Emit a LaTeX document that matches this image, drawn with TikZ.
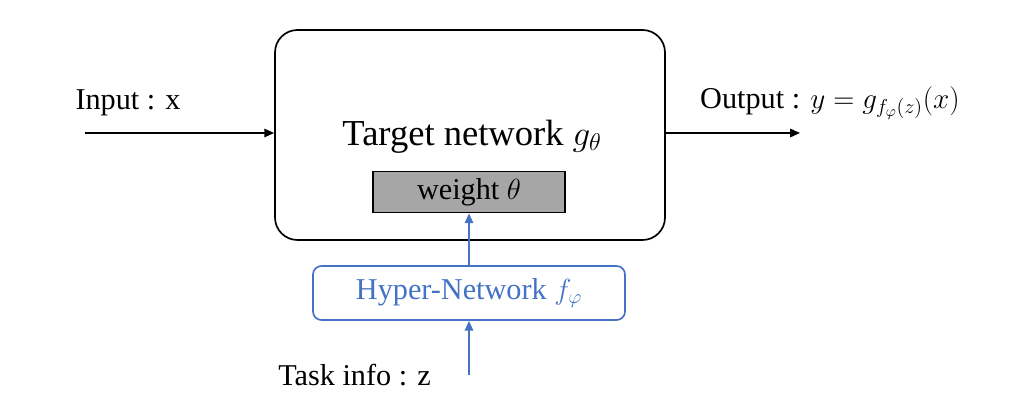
\documentclass[tikz,border=0pt]{standalone}
\usepackage{fontspec}
\setmainfont{Liberation Serif}
\usetikzlibrary{arrows.meta}
\definecolor{hblue}{RGB}{68,114,196}
\begin{document}
\begin{tikzpicture}[x=0.025cm,y=-0.025cm,
  txt/.style={font=\fontsize{21.5}{25}\selectfont, inner sep=0pt},
  arr/.style={-{Triangle[length=7pt,width=6pt]}, line width=1.2pt}]
\useasboundingbox (0,0) rectangle (1034,406);
\node[draw, line width=1.2pt, rounded corners=16pt, minimum width=390*0.025cm, minimum height=210*0.025cm] (tn) at (470,135) {};
\node[txt, font=\fontsize{26}{30}\selectfont] (tl) at (472,137) {Target network $g_\theta$};
\node[draw, line width=1.2pt, fill=black!35, minimum width=192*0.025cm, minimum height=41*0.025cm, txt] (w) at (469,192) {weight $\theta$};
\node[draw=hblue, line width=1.2pt, rounded corners=6pt, minimum width=312*0.025cm, minimum height=54*0.025cm, txt, text=hblue] (h) at (469,293) {Hyper-Network $f_\varphi$};
\coordinate (tz) at (469,375);
\node[txt, anchor=east] (task) at (431,375) {Task info : z};
\coordinate (in) at (85,133);
\node[txt] (il) at (128,103) {Input : x};
\coordinate (out) at (800,133);
\node[txt] (ol) at (830,103) {Output : $y = g_{f_\varphi(z)}(x)$};
\draw[arr] (in) -- (in -| tn.west);
\draw[arr] (out -| tn.east) -- (out);
\draw[arr, hblue] (h.north) -- (w.south);
\draw[arr, hblue] (tz) -- (h.south);
\end{tikzpicture}
\end{document}
